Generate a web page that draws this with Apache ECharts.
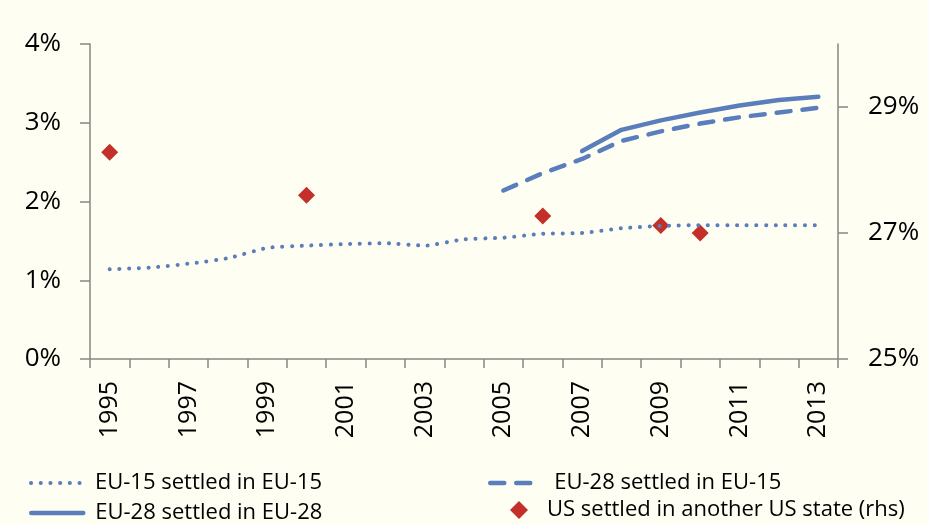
<!DOCTYPE html>
<html>
<head>
<meta charset="utf-8">
<script src="https://cdn.jsdelivr.net/npm/echarts@6/dist/echarts.min.js"></script>
<style>
html,body{margin:0;padding:0;background:#fefef3;}
#c{width:929px;height:525px;}
</style>
</head>
<body>
<div id="c"></div>
<script>
const years = ['1995','1996','1997','1998','1999','2000','2001','2002','2003','2004','2005','2006','2007','2008','2009','2010','2011','2012','2013'];
const eu15in15 = [1.14,1.16,1.21,1.28,1.41,1.44,1.46,1.47,1.44,1.52,1.54,1.59,1.60,1.66,1.69,1.70,1.70,1.70,1.70];
const eu28in15 = [null,null,null,null,null,null,null,null,null,null,2.14,2.36,2.54,2.77,2.89,2.99,3.07,3.13,3.19];
const eu28in28 = [null,null,null,null,null,null,null,null,null,null,null,null,2.64,2.91,3.03,3.13,3.22,3.29,3.33];
const usOther = [28.28,null,null,null,null,27.60,null,null,null,null,null,27.27,null,null,27.12,27.00,null,null,null];
const leftTicks = [0,1,2,3,4];
const rightTicks = [25,27,29];

const blue = '#5a7dbc';
const red = '#c3302a';
const axisGray = '#868686';
const font = 'Open Sans';

const dotStyle = {color:blue, width:4, type:[0.1, 9.6], cap:'round'};
const dashStyle = {color:blue, width:4.5, type:[14, 12], cap:'round'};
const solidStyle = {color:blue, width:4.5, type:'solid', cap:'round'};

const chart = echarts.init(document.getElementById('c'), null, {renderer:'canvas'});
const legendBase = {
  orient:'horizontal', itemWidth:52, itemHeight:14,
  textStyle:{fontFamily:font, fontSize:22, color:'#000', padding:[0,0,0,7]},
  selectedMode:false
};
chart.setOption({
  backgroundColor:'#fefef3',
  animation:false,
  grid:{left:90, right:91, top:44, bottom:166, containLabel:false},
  legend:[
    Object.assign({}, legendBase, {left:24, top:467, data:[{name:'EU-15 settled in EU-15', itemStyle:{opacity:0}, lineStyle:dotStyle}]}),
    Object.assign({}, legendBase, {left:483, top:467, data:[{name:'EU-28 settled in EU-15', itemStyle:{opacity:0}, lineStyle:dashStyle}]}),
    Object.assign({}, legendBase, {left:24, top:497, data:[{name:'EU-28 settled in EU-28', itemStyle:{opacity:0}, lineStyle:solidStyle}]}),
    Object.assign({}, legendBase, {left:505, top:494, itemWidth:18, itemHeight:18,
      textStyle:{fontFamily:font, fontSize:22, color:'#000', padding:[0,0,0,14]},
      data:[{name:'US settled in another US state (rhs)', icon:'diamond'}]})
  ],
  xAxis:{
    type:'category', data:years, boundaryGap:true,
    axisLine:{lineStyle:{color:axisGray, width:1.5}},
    axisTick:{show:true, interval:0, length:9, lineStyle:{color:axisGray, width:1.5}},
    axisLabel:{interval:1, rotate:90, margin:22, fontFamily:font, fontSize:25, color:'#000'}
  },
  yAxis:[
    {
      type:'value', min:0, max:4, interval:1, position:'left',
      splitLine:{show:false},
      axisLine:{show:true, lineStyle:{color:axisGray, width:1.5}},
      axisTick:{show:true, length:10, lineStyle:{color:axisGray, width:1.5}},
      axisLabel:{margin:29, fontFamily:font, fontSize:26, color:'#000',
        formatter:v => leftTicks.includes(v) ? v + '%' : ''}
    },
    {
      type:'value', min:25, max:30, interval:2, position:'right',
      splitLine:{show:false},
      axisLine:{show:true, lineStyle:{color:axisGray, width:1.5}},
      axisTick:{show:true, length:10, lineStyle:{color:axisGray, width:1.5}},
      axisLabel:{margin:30, fontFamily:font, fontSize:26, color:'#000', showMaxLabel:false,
        formatter:v => rightTicks.includes(v) ? v + '%' : ''}
    }
  ],
  series:[
    {name:'EU-15 settled in EU-15', type:'line', yAxisIndex:0, data:eu15in15, symbol:'none', smooth:0.2,
      lineStyle:dotStyle, itemStyle:{color:blue}},
    {name:'EU-28 settled in EU-15', type:'line', yAxisIndex:0, data:eu28in15, symbol:'none',
      lineStyle:dashStyle, itemStyle:{color:blue}},
    {name:'EU-28 settled in EU-28', type:'line', yAxisIndex:0, data:eu28in28, symbol:'none',
      lineStyle:solidStyle, itemStyle:{color:blue}},
    {name:'US settled in another US state (rhs)', type:'scatter', yAxisIndex:1, data:usOther,
      symbol:'diamond', symbolSize:[17,17], itemStyle:{color:red, opacity:1}}
  ]
});
</script>
</body>
</html>
